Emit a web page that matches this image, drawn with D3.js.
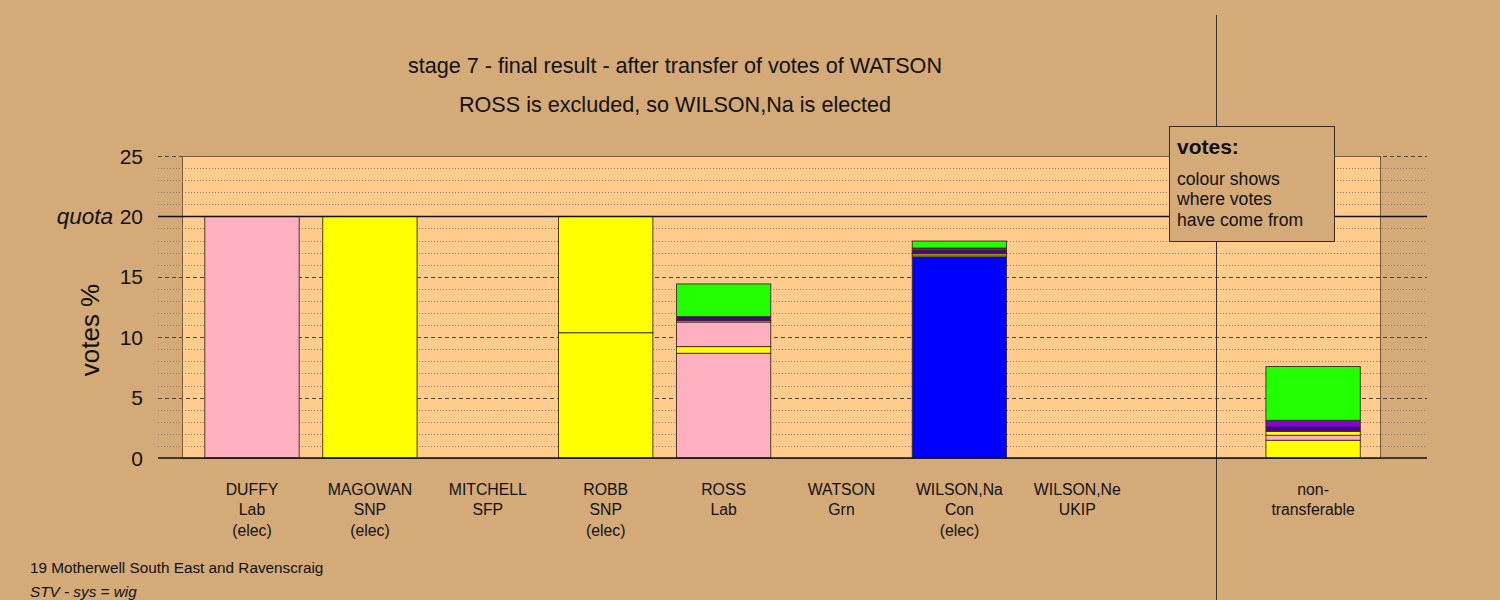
<!DOCTYPE html>
<html><head><meta charset="utf-8">
<script src="https://cdn.jsdelivr.net/npm/d3@7"></script>
<style>
html,body{margin:0;padding:0;background:#D4AA78;}
svg{display:block;font-family:"Liberation Sans",Arial,sans-serif;}
</style></head>
<body>
<svg id="chart" width="1500" height="600"></svg>
<script>
// ---- data ----
const candidates = ["DUFFY","MAGOWAN","MITCHELL","ROBB","ROSS","WATSON","WILSON,Na","WILSON,Ne","","non-transferable"];
const parties    = ["Lab","SNP","SFP","SNP","Lab","Grn","Con","UKIP","",""];
const statusTxt  = ["(elec)","(elec)","","(elec)","","","(elec)","","",""];
// vote layers (% of valid vote), bottom to top, per column
const layerSources = ["own","MAGOWAN","DUFFY","ROBB","MITCHELL","WILSON,Ne","WATSON"];
const layerParty   = [null,"SNP","Lab","SNP","SFP","UKIP","Grn"];
const ownVotes      = [20, 20, 0, 10.37, 8.67, 0, 16.66, 0, 0, 0];
const fromMagowan   = [0, 0, 0, 9.63, 0.55, 0, 0.15, 0, 0, 1.47];
const fromDuffy     = [0, 0, 0, 0, 2.04, 0, 0, 0, 0, 0.41];
const fromRobb      = [0, 0, 0, 0, 0.11, 0, 0.13, 0, 0, 0.33];
const fromMitchell  = [0, 0, 0, 0, 0.33, 0, 0.22, 0, 0, 0.36];
const fromWilsonNe  = [0, 0, 0, 0, 0, 0, 0.22, 0, 0, 0.55];
const fromWatson    = [0, 0, 0, 0, 2.71, 0, 0.58, 0, 0, 4.45];
const layers = [ownVotes, fromMagowan, fromDuffy, fromRobb, fromMitchell, fromWilsonNe, fromWatson];
const quota = 20;
const yTicks = [0,5,10,15,20,25];
const titleLines = ["stage 7 - final result - after transfer of votes of WATSON","ROSS is excluded, so WILSON,Na is elected"];
const legendLines = ["colour shows","where votes","have come from"];
const footer1 = "19 Motherwell South East and Ravenscraig";
const footer2 = "STV - sys = wig";

const partyColour = {Lab:"#FFB0C0", SNP:"#FFFF00", SFP:"#4A0090", Grn:"#22FF00", Con:"#0000FF", UKIP:"#8000E0"};

// ---- layout ----
const svg = d3.select("#chart");
const bg = "#D4AA78", panelFill = "#FFCC8E";
svg.append("rect").attr("width",1500).attr("height",600).attr("fill",bg);

const y = d3.scaleLinear().domain([0,25]).range([458,156]);
const slots = d3.range(candidates.length);
const x = d3.scaleBand().domain(slots).range([193.05,1372.05]).paddingInner(0.2).paddingOuter(0.1);
const gx0 = 158, gx1 = 1427, px0 = 182, px1 = 1380;

// panel
svg.append("rect").attr("x",px0).attr("y",y(25)).attr("width",px1-px0).attr("height",y(0)-y(25))
  .attr("fill",panelFill);

// minor grid
const minor = d3.range(1,25).filter(v=>v%5!==0);
svg.append("g").selectAll("line").data(minor).join("line")
  .attr("x1",gx0).attr("x2",gx1).attr("y1",d=>Math.round(y(d))+0.5).attr("y2",d=>Math.round(y(d))+0.5)
  .attr("stroke","#9a7a58").attr("stroke-width",1).attr("stroke-dasharray","1,2");
// major grid
svg.append("g").selectAll("line").data([5,10,15,25]).join("line")
  .attr("x1",gx0).attr("x2",gx1).attr("y1",d=>Math.round(y(d))+0.5).attr("y2",d=>Math.round(y(d))+0.5)
  .attr("stroke","#5a4530").attr("stroke-width",1).attr("stroke-dasharray","4,3");

// panel border
svg.append("rect").attr("x",px0+0.5).attr("y",Math.round(y(25))+0.5).attr("width",px1-px0).attr("height",y(0)-y(25))
  .attr("fill","none").attr("stroke","#7a5a3c").attr("stroke-width",1);

// separator
svg.append("line").attr("x1",1216.5).attr("x2",1216.5).attr("y1",15).attr("y2",600)
  .attr("stroke","#333").attr("stroke-width",1);

// stacked bars
const stackData = slots.map(i=>{
  let base = 0; const segs=[];
  layers.forEach((arr,li)=>{
    const v = arr[i];
    if (li===0 || v>0){
      const p = li===0 ? parties[i] : layerParty[li];
      if (v>0 || (li===0 && candidates[i]!=="" )) segs.push({i, y0:base, y1:base+v, colour: partyColour[p]||"#fff"});
      base += v;
    }
  });
  return segs;
}).flat().filter(s=>candidates[s.i]!=="" && !(s.y1===s.y0 && s.i===9));

svg.append("g").selectAll("rect").data(stackData).join("rect")
  .attr("x",d=>x(d.i)).attr("width",x.bandwidth())
  .attr("y",d=>y(d.y1)).attr("height",d=>y(d.y0)-y(d.y1))
  .attr("fill",d=>d.colour).attr("stroke","#3a2a1a").attr("stroke-width",0.9);

// quota and baseline
svg.append("line").attr("x1",gx0).attr("x2",gx1).attr("y1",y(quota)).attr("y2",y(quota))
  .attr("stroke","#111").attr("stroke-width",1.5);
svg.append("line").attr("x1",gx0).attr("x2",gx1).attr("y1",y(0)).attr("y2",y(0))
  .attr("stroke","#111").attr("stroke-width",1.5);

// y tick labels
svg.append("g").selectAll("text").data(yTicks).join("text")
  .attr("x",143).attr("y",d=>y(d)+7.5).attr("text-anchor","end")
  .attr("font-size",21).attr("fill","#111").text(d=>d);
svg.append("text").attr("x",113).attr("y",y(quota)+7.5).attr("text-anchor","end")
  .attr("font-size",22.5).attr("font-style","italic").attr("fill","#111").text("quota");
svg.append("text").attr("transform","translate(99,330) rotate(-90)").attr("text-anchor","middle")
  .attr("font-size",26).attr("fill","#111").text("votes %");

// titles
svg.append("g").selectAll("text").data(titleLines).join("text")
  .attr("x",675).attr("y",(d,i)=>72.5+i*39).attr("text-anchor","middle")
  .attr("font-size",21.6).attr("fill","#111").text(d=>d);

// x labels
const xl = svg.append("g").attr("font-size",15.8).attr("fill","#111").attr("text-anchor","middle");
slots.forEach(i=>{
  const cx = x(i)+x.bandwidth()/2;
  let lines;
  if (candidates[i]==="non-transferable") lines=["non-","transferable"];
  else lines=[candidates[i],parties[i],statusTxt[i]];
  lines.forEach((t,k)=>{ if(t) xl.append("text").attr("x",cx).attr("y",494.5+k*20.5).text(t); });
});

// legend
const lg = svg.append("g");
lg.append("rect").attr("x",1169.5).attr("y",126.5).attr("width",165).attr("height",115)
  .attr("fill",bg).attr("stroke","#3a2a1a").attr("stroke-width",1);
lg.append("text").attr("x",1177).attr("y",154).attr("font-size",21).attr("font-weight","bold").attr("fill","#111").text("votes:");
lg.selectAll("text.l").data(legendLines).join("text").attr("class","l")
  .attr("x",1177).attr("y",(d,i)=>184.5+i*20.8).attr("font-size",17.6).attr("fill","#111").text(d=>d);

// footer
svg.append("text").attr("x",30).attr("y",572.5).attr("font-size",15.3).attr("fill","#111").text(footer1);
svg.append("text").attr("x",30).attr("y",596.5).attr("font-size",15.3).attr("font-style","italic").attr("fill","#111").text(footer2);
</script>
</body></html>
